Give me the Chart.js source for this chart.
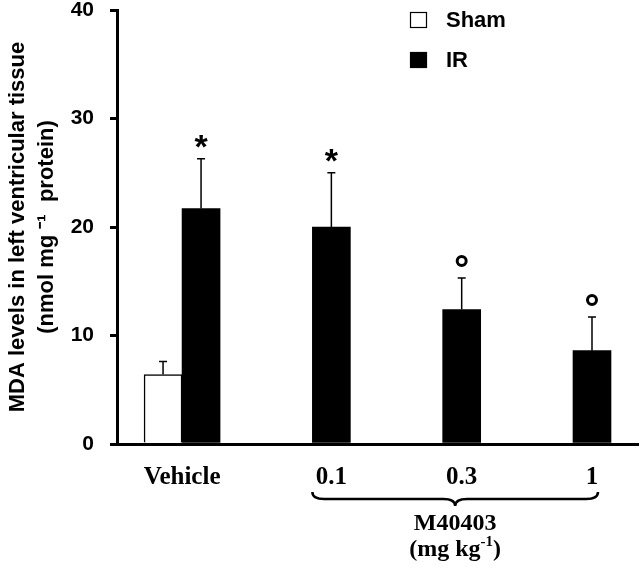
<!DOCTYPE html>
<html>
<head>
<meta charset="utf-8">
<script src="https://cdn.jsdelivr.net/npm/chart.js@4.4.1/dist/chart.umd.min.js"></script>
<style>
    html, body { margin: 0; padding: 0; background: #fff; }
    #wrap { width: 640px; height: 570px; position: relative; }
</style>
</head>
<body>
<div id="wrap"><canvas id="mdaChart"></canvas></div>
<script>
// dados
const categorias = ['Vehicle', '0.1', '0.3', '1'];
const shamValores = [6.4, null, null, null];
const shamErros = [1.2, null, null, null];
const irValores = [21.7, 20.0, 12.4, 8.6];
const irErros = [4.6, 5.0, 2.9, 3.1];
const irMarcas = ['*', '*', 'o', 'o'];
const yTicks = [0, 10, 20, 30, 40];

const fonteSans = "Arial, 'Liberation Sans', sans-serif";
const fonteSerif = "'Times New Roman', 'Liberation Serif', serif";

function pontos(valores) {
    return valores.map((v, i) => ({ x: i, y: v }));
}

const extras = {
    id: 'extras',
    afterDatasetsDraw(chart) {
        const ctx = chart.ctx;
        const yScale = chart.scales.y;
        ctx.save();
        ctx.strokeStyle = '#000';
        ctx.fillStyle = '#000';

        // barras de erro (so para cima)
        [[0, shamValores, shamErros], [1, irValores, irErros]].forEach(([di, valores, erros]) => {
            const meta = chart.getDatasetMeta(di);
            meta.data.forEach((bar, i) => {
                if (valores[i] == null) return;
                const yTop = yScale.getPixelForValue(valores[i] + erros[i]);
                ctx.lineWidth = 1.5;
                ctx.beginPath();
                ctx.moveTo(bar.x, bar.y);
                ctx.lineTo(bar.x, yTop);
                ctx.moveTo(bar.x - 4, yTop);
                ctx.lineTo(bar.x + 4, yTop);
                ctx.stroke();

                if (di !== 1) return;
                const cy = yTop - 17;
                if (irMarcas[i] === '*') {
                    ctx.font = 'bold 34px ' + fonteSans;
                    ctx.textAlign = 'center';
                    ctx.textBaseline = 'alphabetic';
                    const m = ctx.measureText('*');
                    const base = cy + (m.actualBoundingBoxAscent - m.actualBoundingBoxDescent) / 2;
                    ctx.fillText('*', bar.x, base);
                } else {
                    ctx.lineWidth = 3;
                    ctx.beginPath();
                    ctx.arc(bar.x, cy, 4.5, 0, Math.PI * 2);
                    ctx.stroke();
                }
            });
        });

        // rotulos do eixo x, centrados nas barras de cada grupo
        const metaSham = chart.getDatasetMeta(0);
        const metaIr = chart.getDatasetMeta(1);
        ctx.font = 'bold 25px ' + fonteSerif;
        ctx.textAlign = 'center';
        ctx.textBaseline = 'alphabetic';
        categorias.forEach((cat, i) => {
            const xs = [];
            if (shamValores[i] != null) xs.push(metaSham.data[i].x);
            if (irValores[i] != null) xs.push(metaIr.data[i].x);
            const cx = xs.reduce((a, b) => a + b, 0) / xs.length;
            ctx.fillText(cat, cx, 484);
        });

        // chave sob as doses de M40403
        const x1 = metaIr.data[1].x - 19;
        const x2 = metaIr.data[3].x + 6;
        const mid = (x1 + x2) / 2;
        const y0 = 492, yl = 499, yt = 506;
        ctx.lineWidth = 2.5;
        ctx.beginPath();
        ctx.moveTo(x1, y0);
        ctx.quadraticCurveTo(x1, yl, x1 + 12, yl);
        ctx.lineTo(mid - 12, yl);
        ctx.quadraticCurveTo(mid, yl, mid, yt);
        ctx.quadraticCurveTo(mid, yl, mid + 12, yl);
        ctx.lineTo(x2 - 12, yl);
        ctx.quadraticCurveTo(x2, yl, x2, y0);
        ctx.stroke();

        ctx.font = 'bold 24px ' + fonteSerif;
        ctx.fillText('M40403', mid, 530);

        // (mg kg-1) com expoente
        const p1 = '(mg kg', sup = '-1', p2 = ')';
        ctx.font = 'bold 24px ' + fonteSerif;
        const w1 = ctx.measureText(p1).width;
        const w3 = ctx.measureText(p2).width;
        ctx.font = 'bold 15px ' + fonteSerif;
        const w2 = ctx.measureText(sup).width;
        let x = mid - (w1 + w2 + w3) / 2;
        ctx.textAlign = 'left';
        ctx.font = 'bold 24px ' + fonteSerif;
        ctx.fillText(p1, x, 556);
        x += w1;
        ctx.font = 'bold 15px ' + fonteSerif;
        ctx.fillText(sup, x, 546);
        x += w2;
        ctx.font = 'bold 24px ' + fonteSerif;
        ctx.fillText(p2, x, 556);

        // legenda dentro da area do grafico
        ctx.font = 'bold 22px ' + fonteSans;
        ctx.textBaseline = 'middle';
        chart.data.datasets.forEach((ds, k) => {
            if (!ds.label) return;
            const by = 12 + 40 * k;
            ctx.fillStyle = ds.backgroundColor;
            ctx.fillRect(410, by, 17, 16);
            ctx.lineWidth = 1.2;
            ctx.strokeStyle = '#000';
            ctx.strokeRect(410.5, by + 0.5, 16, 15);
            ctx.fillStyle = '#000';
            ctx.fillText(ds.label, 446, by + 9);
        });
        ctx.restore();
    }
};

const ctx = document.getElementById('mdaChart').getContext('2d');
const mdaChart = new Chart(ctx, {
    type: 'bar',
    data: {
        datasets: [{
            label: 'Sham',
            data: pontos(shamValores),
            backgroundColor: '#ffffff',
            borderColor: '#000000',
            borderWidth: 1.5
        }, {
            label: 'IR',
            data: pontos(irValores),
            backgroundColor: '#000000',
            borderColor: '#000000',
            borderWidth: 0
        }, {
            // grupo vazio para manter a barra IR no centro da categoria
            label: '',
            data: pontos(categorias.map(() => null)),
            backgroundColor: 'rgba(0,0,0,0)'
        }]
    },
    options: {
        responsive: true,
        maintainAspectRatio: false,
        animation: false,
        barThickness: 38,
        layout: { padding: { top: 10, right: 2, left: 0, bottom: 0 } },
        plugins: {
            legend: { display: false },
            tooltip: { enabled: false }
        },
        scales: {
            x: {
                type: 'linear',
                min: -0.645,
                max: 3.353,
                offset: false,
                grid: { display: false, offset: false },
                ticks: { display: false },
                border: { display: true, color: '#000', width: 3 },
                afterFit(scale) { scale.height = 126; }
            },
            y: {
                min: 0,
                max: 40,
                afterBuildTicks(scale) { scale.ticks = yTicks.map(v => ({ value: v })); },
                grid: {
                    drawOnChartArea: false,
                    drawTicks: true,
                    tickLength: 7,
                    lineWidth: 3,
                    color: '#000'
                },
                border: { display: true, color: '#000', width: 3 },
                ticks: {
                    color: '#000',
                    padding: 16,
                    font: { family: fonteSans, size: 21, weight: 'bold', lineHeight: 1 }
                },
                title: {
                    display: true,
                    text: ['MDA levels in left ventricular tissue', '(nmol mg \u207B\u00B9  protein)'],
                    color: '#000',
                    padding: { top: 4, bottom: 0 },
                    font: { family: fonteSans, size: 22, weight: 'bold', lineHeight: 1.3 }
                },
                afterFit(scale) {
                    scale.width = 117;
                    scale.paddingTop = 0;
                    scale.paddingBottom = 0;
                }
            }
        }
    },
    plugins: [extras]
});
</script>
</body>
</html>
